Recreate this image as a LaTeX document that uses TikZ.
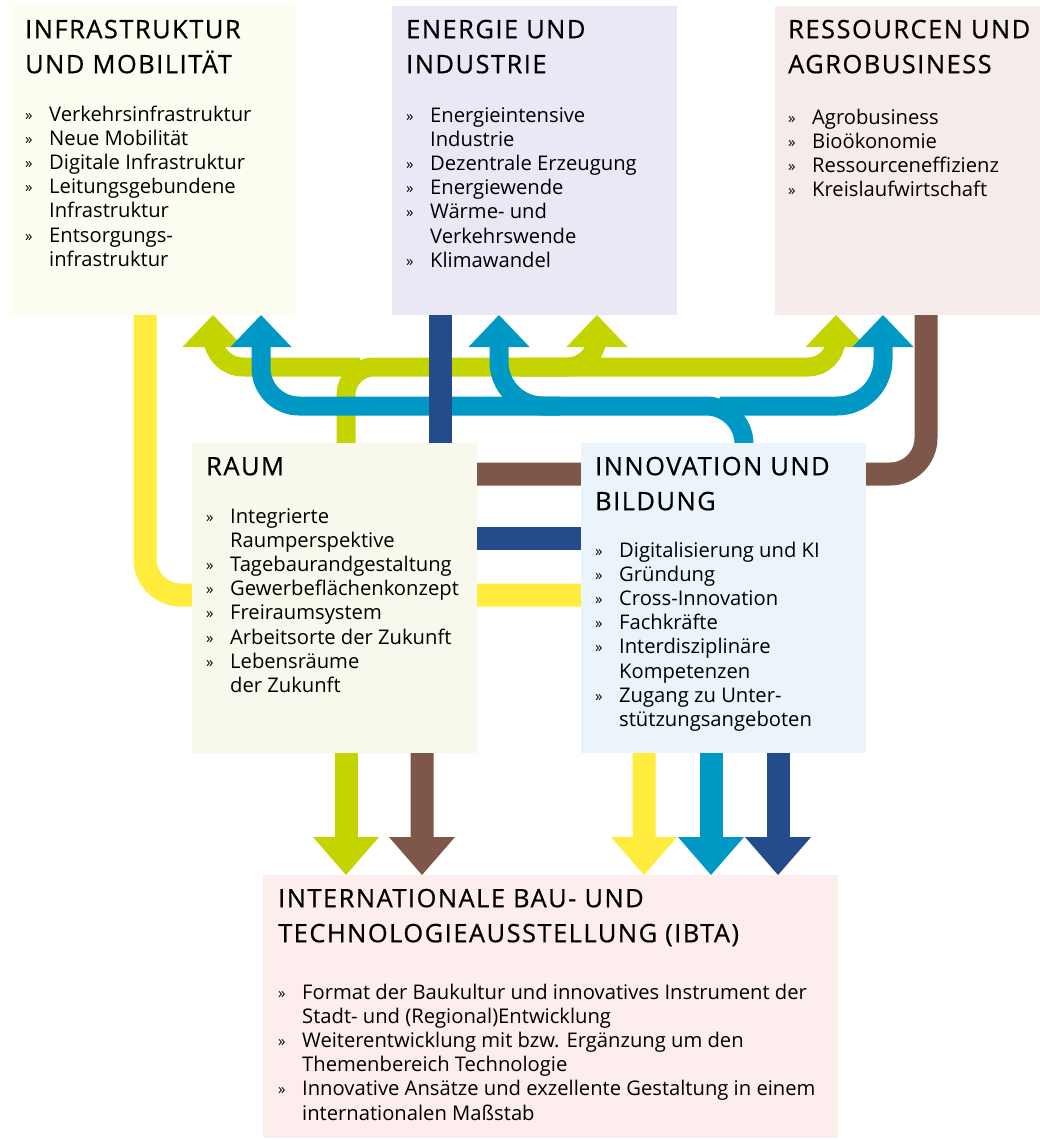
\documentclass[tikz,border=0pt]{standalone}
\usepackage{fontspec}
\setmainfont{Open Sans}
\newfontfamily\titelfont[LetterSpace=6,FakeBold=0.6]{Open Sans}
\usetikzlibrary{arrows.meta,backgrounds}

\definecolor{infrabg}{HTML}{FDFCF0}
\definecolor{energiebg}{HTML}{E9E8F4}
\definecolor{ressbg}{HTML}{F4EBEA}
\definecolor{raumbg}{HTML}{F8F8EC}
\definecolor{innobg}{HTML}{EBF4FA}
\definecolor{ibtabg}{HTML}{FDEDEC}
\definecolor{gelb}{HTML}{FFEC3C}
\definecolor{gruen}{HTML}{C3D400}
\definecolor{blau}{HTML}{0099C6}
\definecolor{navy}{HTML}{244B8C}
\definecolor{braun}{HTML}{7E574A}

\newcommand{\pkt}{\makebox[24pt][l]{\raisebox{1pt}{\fontsize{15}{15}\selectfont »}}}
\newcommand{\weiter}{\hspace*{24pt}}

\begin{document}
\begin{tikzpicture}[x=1pt,y=-1pt,
  feld/.style={anchor=north west,inner sep=0pt,outer sep=0pt},
  titel/.style={anchor=north west,inner sep=0pt,align=left,font=\titelfont\fontsize{25.4}{35}\selectfont},
  liste/.style={anchor=north west,inner sep=0pt,align=left,font=\fontsize{20.2}{24.2}\selectfont},
  band/.style={line width=19pt},
  zufluss/.style={line width=23pt},
  hoch/.style={-{Triangle[width=61pt,length=32pt,line width=0pt]}},
  runter/.style={-{Triangle[width=66pt,length=38pt,line width=0pt]}}]
\useasboundingbox (0,0) rectangle (1040,1140);

% Themenfelder oben
\node[feld,fill=infrabg,minimum width=284pt,minimum height=309pt] (infra) at (11,6) {};
\node[titel] (infraT) at ([shift={(14,7.5)}]infra.north west) {\strut INFRASTRUKTUR\\UND MOBILITÄT};
\node[liste] (infraL) at ([shift={(14,98)}]infra.north west) {\strut\pkt Verkehrsinfrastruktur\\
  \pkt Neue Mobilität\\\pkt Digitale Infrastruktur\\\pkt Leitungsgebundene\\\weiter Infrastruktur\\
  \pkt Entsorgungs-\\\weiter infrastruktur};

\node[feld,fill=energiebg,minimum width=285pt,minimum height=309pt] (energie) at (392,6) {};
\node[titel] (energieT) at ([shift={(14,7.5)}]energie.north west) {\strut ENERGIE UND\\INDUSTRIE};
\node[liste] (energieL) at ([shift={(14,99)}]energie.north west) {\strut\pkt Energieintensive\\\weiter Industrie\\
  \pkt Dezentrale Erzeugung\\\pkt Energiewende\\\pkt Wärme- und\\\weiter Verkehrswende\\\pkt Klimawandel};

\node[feld,fill=ressbg,minimum width=265pt,minimum height=309pt] (ressourcen) at (775,6) {};
\node[titel] (ressourcenT) at ([shift={(13,7.5)}]ressourcen.north west) {\strut RESSOURCEN UND\\AGROBUSINESS};
\node[liste] (ressourcenL) at ([shift={(13,101)}]ressourcen.north west) {\strut\pkt Agrobusiness\\
  \pkt Bioökonomie\\\pkt Ressourceneffizienz\\\pkt Kreislaufwirtschaft};

% Querschnitt
\node[feld,fill=raumbg,minimum width=285pt,minimum height=310pt] (raum) at (192,443) {};
\node[titel] (raumT) at ([shift={(14,7.5)}]raum.north west) {\strut RAUM};
\node[liste] (raumL) at ([shift={(14,63)}]raum.north west) {\strut\pkt Integrierte\\\weiter Raumperspektive\\
  \pkt Tagebaurandgestaltung\\\pkt Gewerbeflächenkonzept\\\pkt Freiraumsystem\\
  \pkt Arbeitsorte der Zukunft\\\pkt Lebensräume\\\weiter der Zukunft};

\node[feld,fill=innobg,minimum width=285pt,minimum height=310pt] (innov) at (581,443) {};
\node[titel] (innovT) at ([shift={(14,7.5)}]innov.north west) {\strut INNOVATION UND\\BILDUNG};
\node[liste] (innovL) at ([shift={(14,97)}]innov.north west) {\strut\pkt Digitalisierung und KI\\
  \pkt Gründung\\\pkt Cross-Innovation\\\pkt Fachkräfte\\\pkt Interdisziplinäre\\\weiter Kompetenzen\\
  \pkt Zugang zu Unter-\\\weiter stützungsangeboten};

% IBTA
\node[feld,fill=ibtabg,minimum width=575pt,minimum height=263pt] (ibta) at (263,875) {};
\node[titel] (ibtaT) at ([shift={(15,7.5)}]ibta.north west) {\strut INTERNATIONALE BAU- UND\\TECHNOLOGIEAUSSTELLUNG (IBTA)};
\node[liste] (ibtaL) at ([shift={(15,107)}]ibta.north west) {\strut\pkt Format der Baukultur und innovatives Instrument der\\
  \weiter Stadt- und (Regional)Entwicklung\\\pkt Weiterentwicklung mit bzw. Ergänzung um den\\
  \weiter Themenbereich Technologie\\\pkt Innovative Ansätze und exzellente Gestaltung in einem\\
  \weiter internationalen Maßstab};

\begin{scope}[on background layer]
% gruen: Raum nach oben
\draw[band,gruen,hoch,rounded corners=28pt] (346,0 |- raum.center) -- (346,367) -- (836,367) -- (836,0 |- ressourcen.south);
\draw[band,gruen,hoch,rounded corners=30pt] (360,367) -- (213,367) -- (213,0 |- infra.south);
\draw[band,gruen,hoch,rounded corners=30pt] (520,367) -- (597,367) -- (597,0 |- energie.south);
% blau: Innovation nach oben
\draw[band,blau,hoch,rounded corners=38pt] (744,0 |- innov.center) -- (744,406) -- (261,406) -- (261,0 |- infra.south);
\draw[band,blau,hoch,rounded corners=44pt] (560,406) -- (499,406) -- (499,0 |- energie.south);
\draw[band,blau,hoch,rounded corners=46pt] (720,406) -- (883,406) -- (883,0 |- ressourcen.south);
% gelb
\draw[zufluss,gelb,runter,rounded corners=36pt] (145,0 |- infra.south) -- (145,595) -- (644,595) -- (644,0 |- ibta.north);
\draw[zufluss,blau,runter] (711,0 |- innov.center) -- (711,0 |- ibta.north);
% navy
\draw[zufluss,navy,runter] (440,0 |- energie.south) -- (440,538) -- (778,538) -- (778,0 |- ibta.north);
% braun
\draw[zufluss,braun,runter,rounded corners=36pt] (926,0 |- ressourcen.south) -- (926,474) -- (422,474) -- (422,0 |- ibta.north);
\draw[zufluss,gruen,runter] (346,0 |- raum.center) -- (346,0 |- ibta.north);
\end{scope}
\end{tikzpicture}
\end{document}
